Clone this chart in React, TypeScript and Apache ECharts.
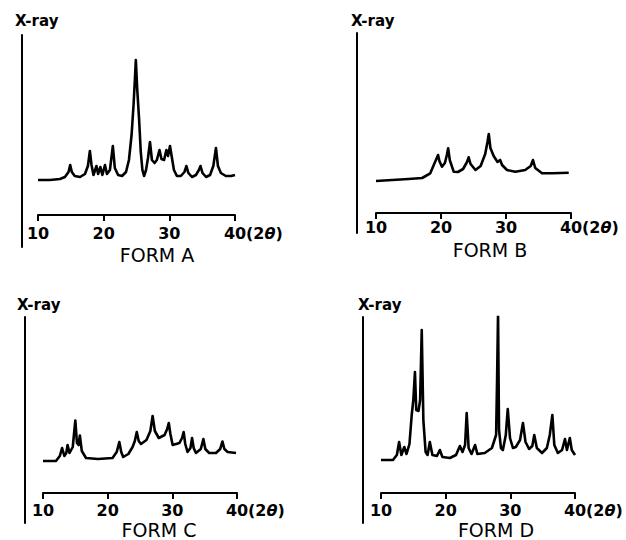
import React, { useEffect, useRef } from "react";
import * as echarts from "echarts";

// ---- data ----
const xTicks = [10, 20, 30, 40];
const xMin = 10;
const xMax = 40;
const tickStep = 10;
const formNames = ["FORM A", "FORM B", "FORM C", "FORM D"];
const yAxisLabel = "X-ray";

// [2θ, relative intensity above the baseline]
const formA: [number, number][] = [
  [10, 0], [11.8, 0], [13.35, 1], [14.1, 3], [14.65, 8], [14.9, 15], [15.15, 8], [15.6, 4],
  [16.4, 3], [17.15, 6], [17.6, 14], [17.9, 29], [18.15, 15], [18.45, 5], [18.9, 14], [19.15, 6],
  [19.5, 13], [19.8, 5], [20.2, 15], [20.5, 6], [20.95, 10], [21.4, 34], [21.7, 12], [22.2, 5],
  [22.8, 4], [23.4, 8], [23.85, 20], [24.25, 45], [24.55, 75], [24.75, 100], [24.9, 120],
  [25.1, 92], [25.4, 60], [25.65, 28], [25.9, 10], [26.15, 4], [26.45, 10], [26.75, 22],
  [27.05, 38], [27.35, 20], [27.75, 17], [28.1, 20], [28.5, 30], [28.8, 21], [29.2, 20],
  [29.55, 30], [29.8, 24], [30.1, 34], [30.4, 22], [30.7, 10], [31.15, 4], [31.75, 4],
  [32.3, 8], [32.6, 14], [32.9, 7], [33.45, 3], [34.05, 5], [34.5, 10], [34.75, 14], [35.05, 7],
  [35.6, 3], [36.2, 5], [36.7, 14], [37.1, 32], [37.4, 14], [37.85, 7], [38.6, 4], [39.4, 4],
  [40, 5],
];

const formB: [number, number][] = [
  [10, 1], [12.5, 2], [15, 3], [17.1, 4], [18.35, 8.7], [19.0, 18.7], [19.35, 24], [19.55, 27],
  [19.75, 21], [20.15, 15.3], [20.6, 19], [20.9, 27], [21.1, 33.7], [21.35, 22], [21.95, 10.3],
  [22.6, 10], [23.4, 13], [24.0, 20], [24.25, 24.7], [24.55, 18], [25.3, 12], [26.1, 16],
  [26.8, 28], [27.15, 40], [27.35, 48], [27.6, 34], [28.1, 26], [28.7, 20], [29.1, 22],
  [29.4, 17], [30.15, 12], [31.45, 10.3], [32.95, 12], [33.8, 16], [34.15, 22], [34.5, 14],
  [35.55, 8.7], [37.1, 8.7], [39.65, 9.3],
];

const formC: [number, number][] = [
  [10, 0], [12.0, 0], [12.6, 5], [12.95, 13], [13.3, 5], [13.6, 8], [13.8, 16], [14.1, 8],
  [14.6, 14], [15.0, 40.5], [15.25, 18], [15.5, 16], [15.7, 25.5], [16.0, 10], [16.65, 3],
  [18.5, 2], [20.75, 3], [21.4, 9], [21.8, 19], [22.1, 9], [22.4, 4], [23.2, 7], [23.85, 14],
  [24.2, 20], [24.5, 29], [24.8, 20], [25.15, 17], [26.0, 21], [26.6, 30], [26.95, 45],
  [27.3, 30], [27.9, 23], [28.8, 26], [29.2, 32], [29.45, 38], [29.7, 27], [30.05, 16],
  [31.1, 18], [31.5, 23], [31.75, 29], [32.0, 17], [32.35, 9], [32.8, 13], [33.05, 23],
  [33.3, 13], [33.65, 8], [34.4, 12], [34.8, 22], [35.1, 12], [35.7, 8], [36.75, 8],
  [37.4, 12], [37.75, 19.5], [38.05, 12], [38.55, 9], [39.85, 8],
];

const formD: [number, number][] = [
  [10, 0], [11.85, 0], [12.45, 5], [12.8, 18], [13.15, 5], [13.6, 13], [13.95, 6], [14.4, 16],
  [14.75, 45], [15.0, 60], [15.25, 88], [15.45, 50], [15.8, 49], [16.05, 60], [16.3, 130],
  [16.55, 40], [16.9, 8], [17.2, 5], [17.55, 18], [17.95, 5], [18.65, 4], [19.1, 10], [19.5, 3],
  [20.65, 2], [21.6, 5], [22.2, 14], [22.6, 8], [23.0, 15], [23.25, 47], [23.55, 12], [24.0, 6],
  [24.55, 15], [24.9, 6], [26.05, 7], [27.15, 12], [27.8, 25], [27.95, 80], [28.1, 147],
  [28.25, 30], [28.55, 12], [28.85, 10], [29.3, 25], [29.6, 51], [29.95, 22], [30.4, 12],
  [30.85, 13], [31.5, 20], [31.95, 37], [32.35, 18], [32.9, 11], [33.4, 14], [33.7, 25],
  [34.1, 12], [34.9, 7], [35.65, 12], [36.1, 25], [36.5, 45], [36.8, 15], [37.35, 7],
  [38.0, 10], [38.45, 21], [38.75, 10], [39.2, 22], [39.5, 10], [40, 5],
];

const formsData = [formA, formB, formC, formD];

// ---- layout (pixels) ----
const FONT = '"DejaVu Sans", sans-serif';
const panels = [
  { left: 38, top: 35, width: 197, height: 212, xOffset: -32, yOffset: 16, yMin: -67, yMax: 145, labelMargin: 10, xray: [15, 21], form: [157, 254.5] },
  { left: 376, top: 33, width: 195, height: 200, xOffset: -20, yOffset: 19, yMin: -51, yMax: 149, labelMargin: 6, xray: [351, 21], form: [490, 249.5] },
  { left: 43, top: 317, width: 194, height: 206, xOffset: -30, yOffset: 18, yMin: -62, yMax: 144, labelMargin: 9, xray: [17, 305], form: [159, 530] },
  { left: 381, top: 317, width: 194, height: 206, xOffset: -30, yOffset: 18, yMin: -63, yMax: 143, labelMargin: 9, xray: [358, 305], form: [496, 530] },
];

export default function App() {
  const ref = useRef<HTMLDivElement>(null);

  useEffect(() => {
    if (!ref.current) return;
    const chart = echarts.init(ref.current, undefined, { renderer: "svg" });

    const grid = panels.map((p) => ({
      left: p.left,
      top: p.top,
      width: p.width,
      height: p.height,
      containLabel: false,
      outerBoundsMode: "none",
    }));

    const xAxis = panels.map((p, i) => ({
      type: "value",
      gridIndex: i,
      min: xMin,
      max: xMax,
      interval: tickStep,
      offset: p.xOffset,
      splitLine: { show: false },
      axisLine: { show: true, onZero: false, lineStyle: { color: "#000", width: 2 } },
      axisTick: { show: true, inside: false, length: 6, lineStyle: { color: "#000", width: 2 } },
      axisLabel: {
        show: true,
        margin: p.labelMargin,
        color: "#000",
        fontFamily: FONT,
        fontSize: 16,
        fontWeight: "bold",
        formatter: (v: number) => (xTicks.includes(v) ? String(v) : ""),
      },
      name: "(2{i|θ})",
      nameLocation: "end",
      nameGap: 11,
      nameMoveOverlap: false,
      nameTextStyle: {
        color: "#000",
        fontFamily: FONT,
        fontSize: 16,
        fontWeight: "bold",
        verticalAlign: "top",
        padding: [p.labelMargin, 0, 0, 0],
        rich: {
          i: { fontFamily: FONT, fontSize: 16, fontWeight: "bold", fontStyle: "italic", color: "#000" },
        },
      },
    }));

    const yAxis = panels.map((p, i) => ({
      type: "value",
      gridIndex: i,
      min: p.yMin,
      max: p.yMax,
      offset: p.yOffset,
      splitLine: { show: false },
      axisLine: { show: true, onZero: false, lineStyle: { color: "#000", width: 2 } },
      axisTick: { show: false },
      axisLabel: { show: false },
    }));

    const series = formsData.map((d, i) => ({
      type: "line",
      name: formNames[i],
      xAxisIndex: i,
      yAxisIndex: i,
      data: d,
      showSymbol: false,
      symbol: "none",
      smooth: false,
      lineStyle: { color: "#000", width: 2.6, join: "round" },
      silent: true,
    }));

    const graphic: any[] = [];
    panels.forEach((p, i) => {
      graphic.push({
        type: "text",
        x: p.xray[0],
        y: p.xray[1],
        style: {
          text: yAxisLabel,
          fill: "#000",
          font: `bold 15px ${FONT}`,
          align: "left",
          verticalAlign: "middle",
        },
      });
      graphic.push({
        type: "text",
        x: p.form[0],
        y: p.form[1],
        style: {
          text: formNames[i],
          fill: "#000",
          font: `19px ${FONT}`,
          align: "center",
          verticalAlign: "middle",
        },
      });
    });

    chart.setOption({
      animation: false,
      backgroundColor: "#fff",
      grid,
      xAxis,
      yAxis,
      series,
      graphic,
    } as any);

    return () => chart.dispose();
  }, []);

  return (
    <div
      ref={ref}
      style={{ position: "absolute", left: 0, top: 0, width: 626, height: 540 }}
    />
  );
}
